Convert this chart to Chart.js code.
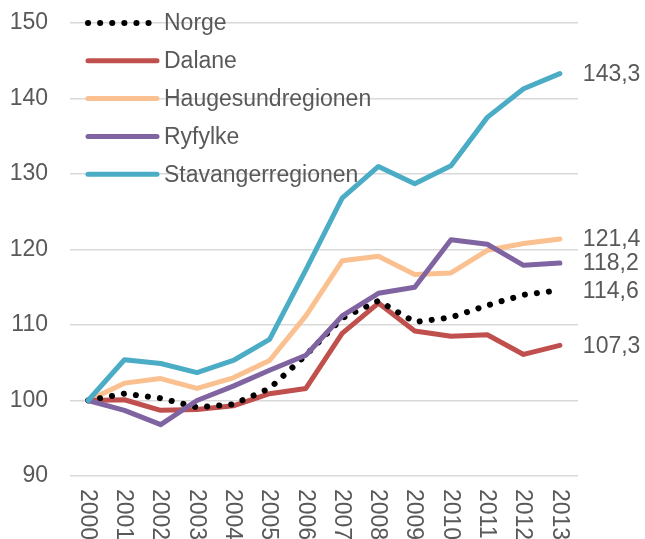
<!DOCTYPE html>
<html>
<head>
<meta charset="utf-8">
<script src="https://cdn.jsdelivr.net/npm/chart.js@4.4.1/dist/chart.umd.min.js"></script>
<style>
  html, body { margin: 0; padding: 0; background: #fff; }
  #wrap { width: 645px; height: 539px; }
</style>
</head>
<body>
<div id="wrap"><canvas id="chart" width="645" height="539"></canvas></div>
<script>
const years = ['2000', '2001', '2002', '2003', '2004', '2005', '2006', '2007', '2008', '2009', '2010', '2011', '2012', '2013'];

const norge = [100, 100.9, 100.3, 99.1, 99.5, 101.6, 106.0, 110.9, 113.2, 110.4, 111.0, 112.6, 114.0, 114.6];
const dalane = [100, 100.1, 98.7, 98.8, 99.3, 100.9, 101.6, 108.9, 112.9, 109.2, 108.5, 108.7, 106.1, 107.3];
const haugesund = [100, 102.3, 102.9, 101.6, 103.0, 105.3, 111.2, 118.5, 119.1, 116.7, 116.9, 119.9, 120.8, 121.4];
const ryfylke = [100, 98.7, 96.8, 100.0, 101.9, 104.0, 106.0, 111.2, 114.2, 115.0, 121.3, 120.7, 117.9, 118.2];
const stavanger = [100, 105.4, 104.9, 103.7, 105.3, 108.1, 117.3, 126.8, 131.0, 128.7, 131.1, 137.5, 141.3, 143.3];

const endLabels = ['114,6', '107,3', '121,4', '118,2', '143,3'];
const yTicks = [90, 100, 110, 120, 130, 140, 150];

const textColor = '#595959';
const font = '23px "Liberation Sans", Arial, sans-serif';

// legend drawn inside the plot, top left
const legendPlugin = {
  id: 'insideLegend',
  afterDraw(chart) {
    const ctx = chart.ctx;
    ctx.save();
    chart.data.datasets.forEach((ds, i) => {
      const y = 23 + i * 37.8;
      ctx.beginPath();
      ctx.strokeStyle = ds.borderColor;
      ctx.lineWidth = ds.borderWidth;
      ctx.lineCap = 'round';
      ctx.setLineDash(ds.borderDash || []);
      ctx.moveTo(88, y);
      ctx.lineTo(157, y);
      ctx.stroke();
      ctx.setLineDash([]);
      ctx.fillStyle = textColor;
      ctx.font = font;
      ctx.textAlign = 'left';
      ctx.textBaseline = 'middle';
      ctx.fillText(ds.label, 164, y + 1);
    });
    ctx.restore();
  }
};

// values at the end of each line + rotated year labels
const labelPlugin = {
  id: 'endAndYears',
  afterDraw(chart) {
    const ctx = chart.ctx;
    const x = chart.scales.x;
    const y = chart.scales.y;
    ctx.save();
    ctx.fillStyle = textColor;
    ctx.font = font;
    ctx.textAlign = 'left';
    ctx.textBaseline = 'middle';
    chart.data.datasets.forEach((ds, i) => {
      const last = ds.data.length - 1;
      ctx.fillText(endLabels[i], x.getPixelForValue(last) + 23, y.getPixelForValue(ds.data[last]) + 1);
    });
    years.forEach((yr, i) => {
      ctx.save();
      ctx.translate(x.getPixelForValue(i) - 1, chart.chartArea.bottom + 13);
      ctx.rotate(Math.PI / 2);
      ctx.textBaseline = 'middle';
      ctx.fillText(yr, 0, 0);
      ctx.restore();
    });
    ctx.restore();
  }
};

new Chart(document.getElementById('chart'), {
  type: 'line',
  data: {
    labels: years,
    datasets: [
      { label: 'Norge', data: norge, borderColor: '#000000', borderWidth: 6, borderDash: [0.1, 12], borderCapStyle: 'round', order: 2 },
      { label: 'Dalane', data: dalane, borderColor: '#C0504D', borderWidth: 5, order: 3 },
      { label: 'Haugesundregionen', data: haugesund, borderColor: '#FAC090', borderWidth: 5, order: 4 },
      { label: 'Ryfylke', data: ryfylke, borderColor: '#8064A2', borderWidth: 5, order: 1 },
      { label: 'Stavangerregionen', data: stavanger, borderColor: '#4BACC6', borderWidth: 5, order: 0 }
    ]
  },
  options: {
    responsive: false,
    animation: false,
    devicePixelRatio: 1,
    layout: { padding: { left: 0, right: 67, top: 23, bottom: 63 } },
    elements: {
      point: { radius: 0 },
      line: { tension: 0, borderJoinStyle: 'round', borderCapStyle: 'round' }
    },
    plugins: {
      legend: { display: false },
      tooltip: { enabled: false }
    },
    scales: {
      x: {
        offset: true,
        afterFit(scale) { scale.height = 0; },
        grid: { display: false },
        border: { display: false },
        ticks: { display: false }
      },
      y: {
        min: 90,
        max: 150,
        afterBuildTicks(scale) { scale.ticks = yTicks.map(v => ({ value: v })); },
        afterFit(scale) {
          scale.width = 70;
          scale.paddingTop = 0;
          scale.paddingBottom = 0;
        },
        grid: { color: '#D9D9D9', lineWidth: 1.5, drawTicks: false },
        border: { display: false },
        ticks: {
          color: textColor,
          font: { size: 23, family: '"Liberation Sans", Arial, sans-serif' },
          padding: 22
        }
      }
    }
  },
  plugins: [legendPlugin, labelPlugin]
});
</script>
</body>
</html>
